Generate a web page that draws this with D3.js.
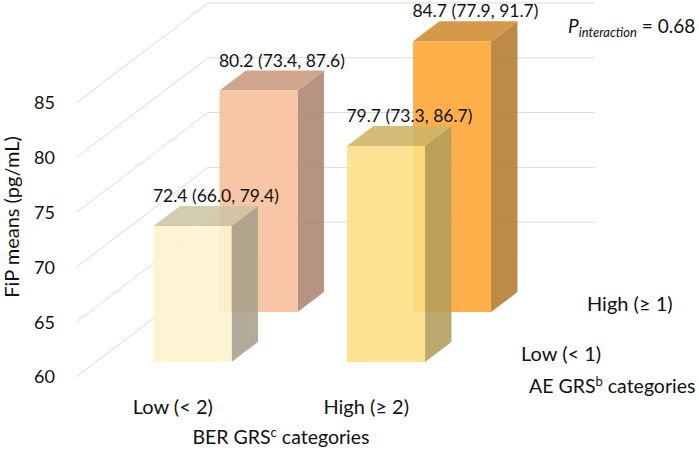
<!DOCTYPE html>
<html><head><meta charset="utf-8">
<script src="https://cdn.jsdelivr.net/npm/d3@7"></script>
<style>
html,body{margin:0;padding:0;background:#fff;}
svg{display:block;font-family:Lato,"Noto Sans",sans-serif;}
</style></head>
<body>
<svg id="chart" width="699" height="453"></svg>
<script>
// ---- data ----
const berCategories = ["Low (< 2)", "High (≥ 2)"];
const aeCategories = ["Low (< 1)", "High (≥ 1)"];
const meansLowAE  = [72.4, 79.7];
const lowerLowAE  = [66.0, 73.3];
const upperLowAE  = [79.4, 86.7];
const meansHighAE = [80.2, 84.7];
const lowerHighAE = [73.4, 77.9];
const upperHighAE = [87.6, 91.7];
const yTicks = [60, 65, 70, 75, 80, 85];
const pInteraction = "0.68";

// colours per bar: [front, top, side]
const colors = {
  "Low (< 1)":  [["#FFF4D0","#CEC6A3","#A8A08A"], ["#FFE083","#CDB566","#B29E5A"]],
  "High (≥ 1)": [["#F8BE99","#C9997C","#AD8670"], ["#FFA633","#D18B30","#B57A2E"]]
};

const svg = d3.select("#chart");

// ---- projection ----
const y = d3.scaleLinear().domain([60, 85]).range([377, 103]);
const x = d3.scalePoint().domain(berCategories).range([76, 463]).padding(0.5);
const z = d3.scalePoint().domain(aeCategories).range([0, 1]).padding(0.5);
const DX = 132, DY = -100;       // full depth offset
const barW = 78, barD = 0.2;
const P = (px, v, d) => [px + d * DX, y(v) + d * DY];

// ---- walls / gridlines ----
const grid = svg.append("g").attr("stroke", "#D9D9D9").attr("stroke-width", 1).attr("fill", "none");
yTicks.forEach(t => {
  const a = P(76, t, 0), b = P(76, t, 1), c = P(463, t, 1);
  grid.append("line").attr("x1", a[0]).attr("y1", a[1]).attr("x2", b[0]).attr("y2", b[1]);
  if (t > 60) grid.append("line").attr("x1", b[0]).attr("y1", b[1]).attr("x2", c[0]).attr("y2", c[1]);
});

// y tick labels
svg.append("g").selectAll("text").data(yTicks).join("text")
  .attr("x", 55).attr("y", d => y(d)).attr("dy", "0.35em")
  .attr("text-anchor", "end").attr("font-size", 18).attr("fill", "#111")
  .text(d => d);

// ---- bars ----
const bars = [];
aeCategories.forEach((ae, ai) => {
  const means = ai === 0 ? meansLowAE : meansHighAE;
  const lo = ai === 0 ? lowerLowAE : lowerHighAE;
  const hi = ai === 0 ? upperLowAE : upperHighAE;
  berCategories.forEach((ber, bi) => {
    bars.push({ae, ber, v: means[bi], lo: lo[bi], hi: hi[bi], col: colors[ae][bi]});
  });
});
// draw back row first
bars.sort((a, b) => z(b.ae) - z(a.ae));

const gBars = svg.append("g");
bars.forEach(b => {
  const d0 = z(b.ae) - barD / 2, d1 = z(b.ae) + barD / 2;
  const xl = x(b.ber) - barW / 2, xr = x(b.ber) + barW / 2;
  const g = gBars.append("g").attr("opacity", 0.88);
  const poly = pts => pts.map(p => p.join(",")).join(" ");
  g.append("polygon").attr("fill", b.col[2])
    .attr("points", poly([P(xr, b.v, d0), P(xr, b.v, d1), P(xr, 60, d1), P(xr, 60, d0)]));
  g.append("polygon").attr("fill", b.col[1])
    .attr("points", poly([P(xl, b.v, d0), P(xr, b.v, d0), P(xr, b.v, d1), P(xl, b.v, d1)]));
  g.append("polygon").attr("fill", b.col[0])
    .attr("points", poly([P(xl, b.v, d0), P(xr, b.v, d0), P(xr, 60, d0), P(xl, 60, d0)]));
  b.lab = P(x(b.ber), b.v, d1);
});

// value labels
const fmt = d3.format(".1f");
svg.append("g").selectAll("text").data(bars).join("text")
  .attr("x", d => d.lab[0] - 3).attr("y", d => Math.max(d.lab[1] - 4, 17))
  .attr("text-anchor", "middle").attr("font-size", 17.5).attr("fill", "#111")
  .text(d => `${fmt(d.v)} (${fmt(d.lo)}, ${fmt(d.hi)})`);

// category labels (BER)
svg.append("g").selectAll("text").data(berCategories).join("text")
  .attr("x", d => x(d)).attr("y", 414)
  .attr("text-anchor", "middle").attr("font-size", 20).attr("fill", "#111")
  .text(d => d);

// depth labels (AE)
svg.append("g").selectAll("text").data(aeCategories).join("text")
  .attr("x", d => P(463, 60, z(d))[0] + 25).attr("y", d => P(463, 60, z(d))[1] + 9)
  .attr("font-size", 20).attr("fill", "#111")
  .text(d => d);

// axis titles
const bt = svg.append("text").attr("x", 281).attr("y", 444).attr("text-anchor", "middle")
  .attr("font-size", 19.5).attr("fill", "#111");
bt.append("tspan").text("BER GRS");
bt.append("tspan").attr("font-size", 13).attr("dy", -7).text("c");
bt.append("tspan").attr("dy", 7).text(" categories");

const at = svg.append("text").attr("x", 529).attr("y", 393)
  .attr("font-size", 19.5).attr("fill", "#111");
at.append("tspan").text("AE GRS");
at.append("tspan").attr("font-size", 13).attr("dy", -7).text("b");
at.append("tspan").attr("dy", 7).text(" categories");

svg.append("text").attr("transform", "translate(19,217) rotate(-90)")
  .attr("text-anchor", "middle").attr("font-size", 20).attr("fill", "#111")
  .text("FiP means (pg/mL)");

// P interaction
const pt = svg.append("text").attr("x", 568).attr("y", 33).attr("font-size", 19).attr("fill", "#111");
pt.append("tspan").attr("font-style", "italic").text("P");
pt.append("tspan").attr("font-style", "italic").attr("font-size", 13).attr("dy", 4).text("interaction");
pt.append("tspan").attr("dy", -4).text(" = " + pInteraction);
</script>
</body></html>
